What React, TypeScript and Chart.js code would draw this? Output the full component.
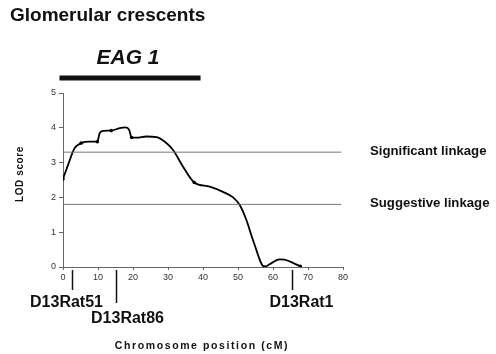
import React, { useEffect, useRef } from "react";
import { Chart, registerables } from "chart.js";

Chart.register(...registerables);

// ---- data ----
const positions = [0, 1.5, 3.3, 5.2, 7.6, 9.8, 10.5, 11.5, 13.8, 16.2, 17.9, 18.9, 19.6, 21, 23.8, 26.7, 29.1, 31.4, 34.3, 37.5, 41.9, 45.7, 48.6, 50.5, 52.4, 54.3, 57.6, 59, 61.9, 63.3, 65.7, 67.8];
const lodScores = [2.53, 2.95, 3.41, 3.56, 3.6, 3.6, 3.85, 3.91, 3.92, 3.99, 4.01, 3.94, 3.72, 3.72, 3.75, 3.73, 3.6, 3.37, 2.88, 2.43, 2.31, 2.16, 2.0, 1.78, 1.35, 0.77, 0, 0.08, 0.22, 0.21, 0.12, 0.02];
const markerPositions = [0, 5.2, 9.8, 13.8, 19.6, 37.5, 57.6, 67.8];
const thresholdNames = ["Significant linkage", "Suggestive linkage"];
const thresholdValues = [3.3, 1.8];
const thresholdRange = [0, 79.5];
const geneticMarkers = ["D13Rat51", "D13Rat86", "D13Rat1"];
const geneticMarkerPositions = [2.5, 15, 65.3];
const eagLabel = "EAG 1";
const eagRange = [-1, 39.3];
const xTicks = [0, 10, 20, 30, 40, 50, 60, 70, 80];
const yTicks = [0, 1, 2, 3, 4, 5];
const chartTitle = "Glomerular crescents";
const xTitle = "Chromosome position (cM)";
const yTitle = "LOD score";

const FONT = "'Liberation Sans', Arial, Helvetica, sans-serif";

const annotations = {
  id: "annotations",
  afterDraw(chart: any) {
    const ctx = chart.ctx as CanvasRenderingContext2D;
    const xs = chart.scales.x;
    const ys = chart.scales.y;
    const area = chart.chartArea;
    ctx.save();
    ctx.fillStyle = "#111";
    ctx.textBaseline = "middle";

    // Title
    ctx.font = `bold 19px ${FONT}`;
    ctx.textAlign = "left";
    ctx.fillText(chartTitle, 10, 16);

    // EAG bar
    const bx0 = xs.getPixelForValue(eagRange[0]);
    const bx1 = xs.getPixelForValue(eagRange[1]);
    const by = area.top - 15;
    ctx.fillRect(bx0, by - 2.5, bx1 - bx0, 5);
    ctx.font = `italic bold 21px ${FONT}`;
    ctx.textAlign = "center";
    ctx.fillText(eagLabel, (bx0 + bx1) / 2 - 2, by - 20);

    // Genetic markers
    const y0 = ys.getPixelForValue(0);
    const tickLens = [23, 36, 23];
    const labelDx = [-6, 11, 9];
    const labelDy = [36, 52, 36];
    ctx.strokeStyle = "#111";
    ctx.lineWidth = 1.5;
    ctx.font = `bold 16px ${FONT}`;
    geneticMarkers.forEach((name, i) => {
      const px = Math.round(xs.getPixelForValue(geneticMarkerPositions[i])) + 0.5;
      ctx.beginPath();
      ctx.moveTo(px, y0 + 3);
      ctx.lineTo(px, y0 + tickLens[i]);
      ctx.stroke();
      ctx.fillText(name, px + labelDx[i], y0 + labelDy[i]);
    });

    // Threshold labels
    ctx.font = `bold 13.2px ${FONT}`;
    ctx.textAlign = "left";
    thresholdNames.forEach((name, i) => {
      ctx.fillText(name, 370, ys.getPixelForValue(thresholdValues[i]) - 1);
    });

    // Axis titles
    ctx.font = `bold 10.5px ${FONT}`;
    (ctx as any).letterSpacing = "1.6px";
    ctx.textAlign = "center";
    ctx.fillText(xTitle, (area.left + area.right) / 2 - 1, 346);
    (ctx as any).letterSpacing = "0.6px";
    ctx.translate(20, (area.top + area.bottom) / 2 - 6);
    ctx.rotate(-Math.PI / 2);
    ctx.font = `bold 10px ${FONT}`;
    ctx.fillText(yTitle, 0, 0);
    ctx.restore();
  },
};

export default function App() {
  const ref = useRef<HTMLCanvasElement>(null);
  useEffect(() => {
    document.body.style.margin = "0";
    const canvas = ref.current!;
    const curve = positions.map((x, i) => ({ x, y: lodScores[i] }));
    const radii = positions.map((p) => (markerPositions.includes(p) ? 1.8 : 0));
    const thresholdSets = thresholdValues.map((v) => ({
      data: thresholdRange.map((x) => ({ x, y: v })),
      borderColor: "#777",
      borderWidth: 1,
      pointRadius: 0,
      tension: 0,
    }));
    const chart = new Chart(canvas, {
      type: "line",
      data: {
        datasets: [
          ...thresholdSets,
          {
            data: curve,
            borderColor: "#000",
            backgroundColor: "#000",
            borderWidth: 1.8,
            pointRadius: radii,
            pointHoverRadius: radii,
            pointBorderWidth: 0,
            cubicInterpolationMode: "monotone",
          },
        ],
      },
      options: {
        animation: false,
        responsive: false,
        events: [],
        layout: { padding: { left: 0, top: 93, right: 153, bottom: 0 } },
        plugins: { legend: { display: false }, tooltip: { enabled: false }, title: { display: false } },
        scales: {
          x: {
            type: "linear",
            min: 0,
            max: 80,
            afterBuildTicks: (s: any) => { s.ticks = xTicks.map((v) => ({ value: v })); },
            afterFit: (s: any) => { s.height = 87; },
            ticks: { font: { family: FONT, size: 9 }, color: "#333", padding: 2, maxRotation: 0 },
            grid: { drawOnChartArea: false, drawTicks: true, tickLength: 3, color: "#666" },
            border: { display: true, color: "#666", width: 1 },
          },
          y: {
            type: "linear",
            min: 0,
            max: 5,
            afterBuildTicks: (s: any) => { s.ticks = yTicks.map((v) => ({ value: v })); },
            afterFit: (s: any) => { s.width = 63; },
            ticks: { font: { family: FONT, size: 9 }, color: "#333", padding: 3 },
            grid: { drawOnChartArea: false, drawTicks: true, tickLength: 4, color: "#666" },
            border: { display: true, color: "#666", width: 1 },
          },
        },
      },
      plugins: [annotations],
    } as any);
    return () => chart.destroy();
  }, []);
  return <canvas ref={ref} width={496} height={354} style={{ display: "block" }} />;
}
